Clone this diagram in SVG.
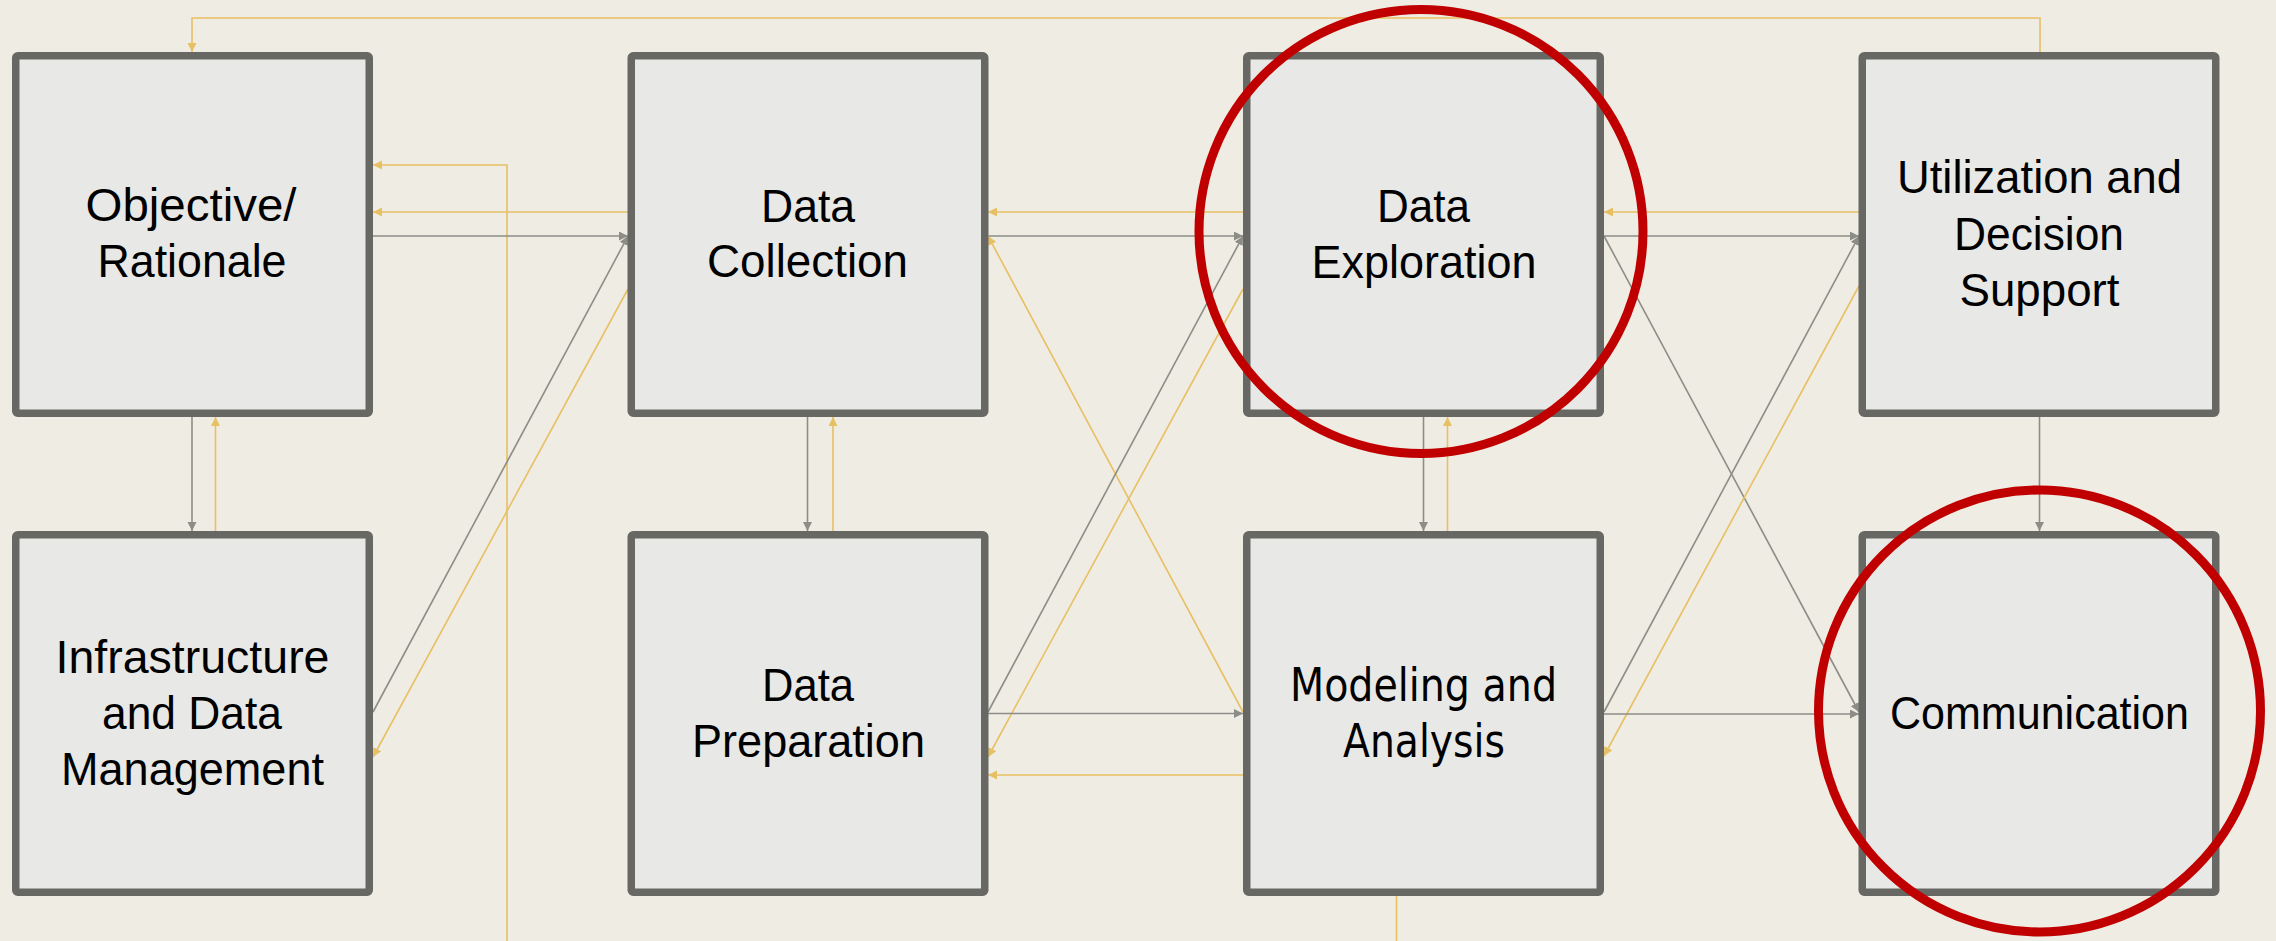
<svg xmlns="http://www.w3.org/2000/svg" width="2276" height="941" viewBox="0 0 2276 941">
<style>
.bg{fill:#efece3}
.box{fill:#e8e8e6;stroke:#676863;stroke-width:7.5;stroke-linejoin:round}
.t{font-family:"Liberation Sans",Arial,sans-serif;font-size:46px;fill:#000;text-anchor:middle}
.t2{font-family:"DejaVu Sans","Noto Sans",sans-serif;font-size:46px;fill:#000;text-anchor:middle}
.g{fill:none;stroke:#8d8d87;stroke-width:1.6}
.y{fill:none;stroke:#e8c064;stroke-width:1.6}
.ring{fill:none;stroke:#c00000;stroke-width:9}
</style>
<defs>
<marker id="ag" markerWidth="10" markerHeight="10" refX="9" refY="4.5" orient="auto" markerUnits="userSpaceOnUse"><path d="M0,0 L9,4.5 L0,9 z" fill="#8d8d87"/></marker>
<marker id="ay" markerWidth="10" markerHeight="10" refX="9" refY="4.5" orient="auto" markerUnits="userSpaceOnUse"><path d="M0,0 L9,4.5 L0,9 z" fill="#e8c064"/></marker>
</defs>
<rect class="bg" x="0" y="0" width="2276" height="941"/>
<g id="connectors">
<path class="y" d="M2040,52 V18 H192 V52" marker-end="url(#ay)"/>
<path class="y" d="M1396.5,896 V960 H507 V165 H373" marker-end="url(#ay)"/>
<path class="y" d="M628,212 H373" marker-end="url(#ay)"/>
<path class="g" d="M373,236 H628" marker-end="url(#ag)"/>
<path class="g" d="M373,712 L628,236" marker-end="url(#ag)"/>
<path class="y" d="M628,289 L373,757" marker-end="url(#ay)"/>
<path class="g" d="M192,417 V531" marker-end="url(#ag)"/>
<path class="y" d="M215.5,531 V417" marker-end="url(#ay)"/>
<path class="g" d="M807.5,417 V531" marker-end="url(#ag)"/>
<path class="y" d="M833,531 V417" marker-end="url(#ay)"/>
<path class="y" d="M1243,212 H988" marker-end="url(#ay)"/>
<path class="g" d="M988,236 H1243" marker-end="url(#ag)"/>
<path class="y" d="M1243,712 L988,236" marker-end="url(#ay)"/>
<path class="g" d="M988,712 L1243,236" marker-end="url(#ag)"/>
<path class="y" d="M1243,289 L988,757" marker-end="url(#ay)"/>
<path class="g" d="M988,713.5 H1243" marker-end="url(#ag)"/>
<path class="y" d="M1243,775 H988" marker-end="url(#ay)"/>
<path class="g" d="M1423.5,417 V531" marker-end="url(#ag)"/>
<path class="y" d="M1447.5,531 V417" marker-end="url(#ay)"/>
<path class="y" d="M1859,212 H1604" marker-end="url(#ay)"/>
<path class="g" d="M1604,236 H1859" marker-end="url(#ag)"/>
<path class="g" d="M1604,236 L1859,712" marker-end="url(#ag)"/>
<path class="g" d="M1604,712 L1859,236" marker-end="url(#ag)"/>
<path class="y" d="M1859,286 L1604,756" marker-end="url(#ay)"/>
<path class="g" d="M1604,714 H1859" marker-end="url(#ag)"/>
<path class="g" d="M2039.5,417 V531" marker-end="url(#ag)"/>
</g>
<g id="objective">
<rect class="box" x="15.75" y="55.75" width="353.5" height="357.5" rx="2"/>
<text class="t" x="191" y="221" textLength="211" lengthAdjust="spacingAndGlyphs">Objective/</text>
<text class="t" x="192" y="277" textLength="189" lengthAdjust="spacingAndGlyphs">Rationale</text>
</g>
<g id="data-collection">
<rect class="box" x="631.25" y="55.75" width="353.5" height="357.5" rx="2"/>
<text class="t" x="808" y="222" textLength="94" lengthAdjust="spacingAndGlyphs">Data</text>
<text class="t" x="807.5" y="277" textLength="201" lengthAdjust="spacingAndGlyphs">Collection</text>
</g>
<g id="data-exploration">
<rect class="box" x="1246.75" y="55.75" width="353.5" height="357.5" rx="2"/>
<text class="t" x="1423.5" y="222" textLength="93" lengthAdjust="spacingAndGlyphs">Data</text>
<text class="t" x="1424" y="278" textLength="225" lengthAdjust="spacingAndGlyphs">Exploration</text>
</g>
<g id="utilization">
<rect class="box" x="1862.25" y="55.75" width="353.5" height="357.5" rx="2"/>
<text class="t" x="2039.5" y="193" textLength="285" lengthAdjust="spacingAndGlyphs">Utilization and</text>
<text class="t" x="2039" y="249.5" textLength="170" lengthAdjust="spacingAndGlyphs">Decision</text>
<text class="t" x="2039.5" y="306" textLength="160" lengthAdjust="spacingAndGlyphs">Support</text>
</g>
<g id="infrastructure">
<rect class="box" x="15.75" y="534.75" width="353.5" height="357.5" rx="2"/>
<text class="t" x="192.5" y="673" textLength="274" lengthAdjust="spacingAndGlyphs">Infrastructure</text>
<text class="t" x="192" y="729" textLength="180" lengthAdjust="spacingAndGlyphs">and Data</text>
<text class="t" x="192.5" y="785" textLength="263" lengthAdjust="spacingAndGlyphs">Management</text>
</g>
<g id="data-preparation">
<rect class="box" x="631.25" y="534.75" width="353.5" height="357.5" rx="2"/>
<text class="t" x="808" y="701" textLength="92" lengthAdjust="spacingAndGlyphs">Data</text>
<text class="t" x="808.5" y="756.5" textLength="233" lengthAdjust="spacingAndGlyphs">Preparation</text>
</g>
<g id="modeling">
<rect class="box" x="1246.75" y="534.75" width="353.5" height="357.5" rx="2"/>
<text class="t2" x="1423.5" y="701" textLength="267" lengthAdjust="spacingAndGlyphs">Modeling and</text>
<text class="t2" x="1424" y="757" textLength="162" lengthAdjust="spacingAndGlyphs">Analysis</text>
</g>
<g id="communication">
<rect class="box" x="1862.25" y="534.75" width="353.5" height="357.5" rx="2"/>
<text class="t" x="2039.5" y="728.5" textLength="299" lengthAdjust="spacingAndGlyphs">Communication</text>
</g>
<g id="highlights">
<circle class="ring" cx="1421" cy="231.5" r="222"/>
<circle class="ring" cx="2039.5" cy="711" r="221"/>
</g>
</svg>
